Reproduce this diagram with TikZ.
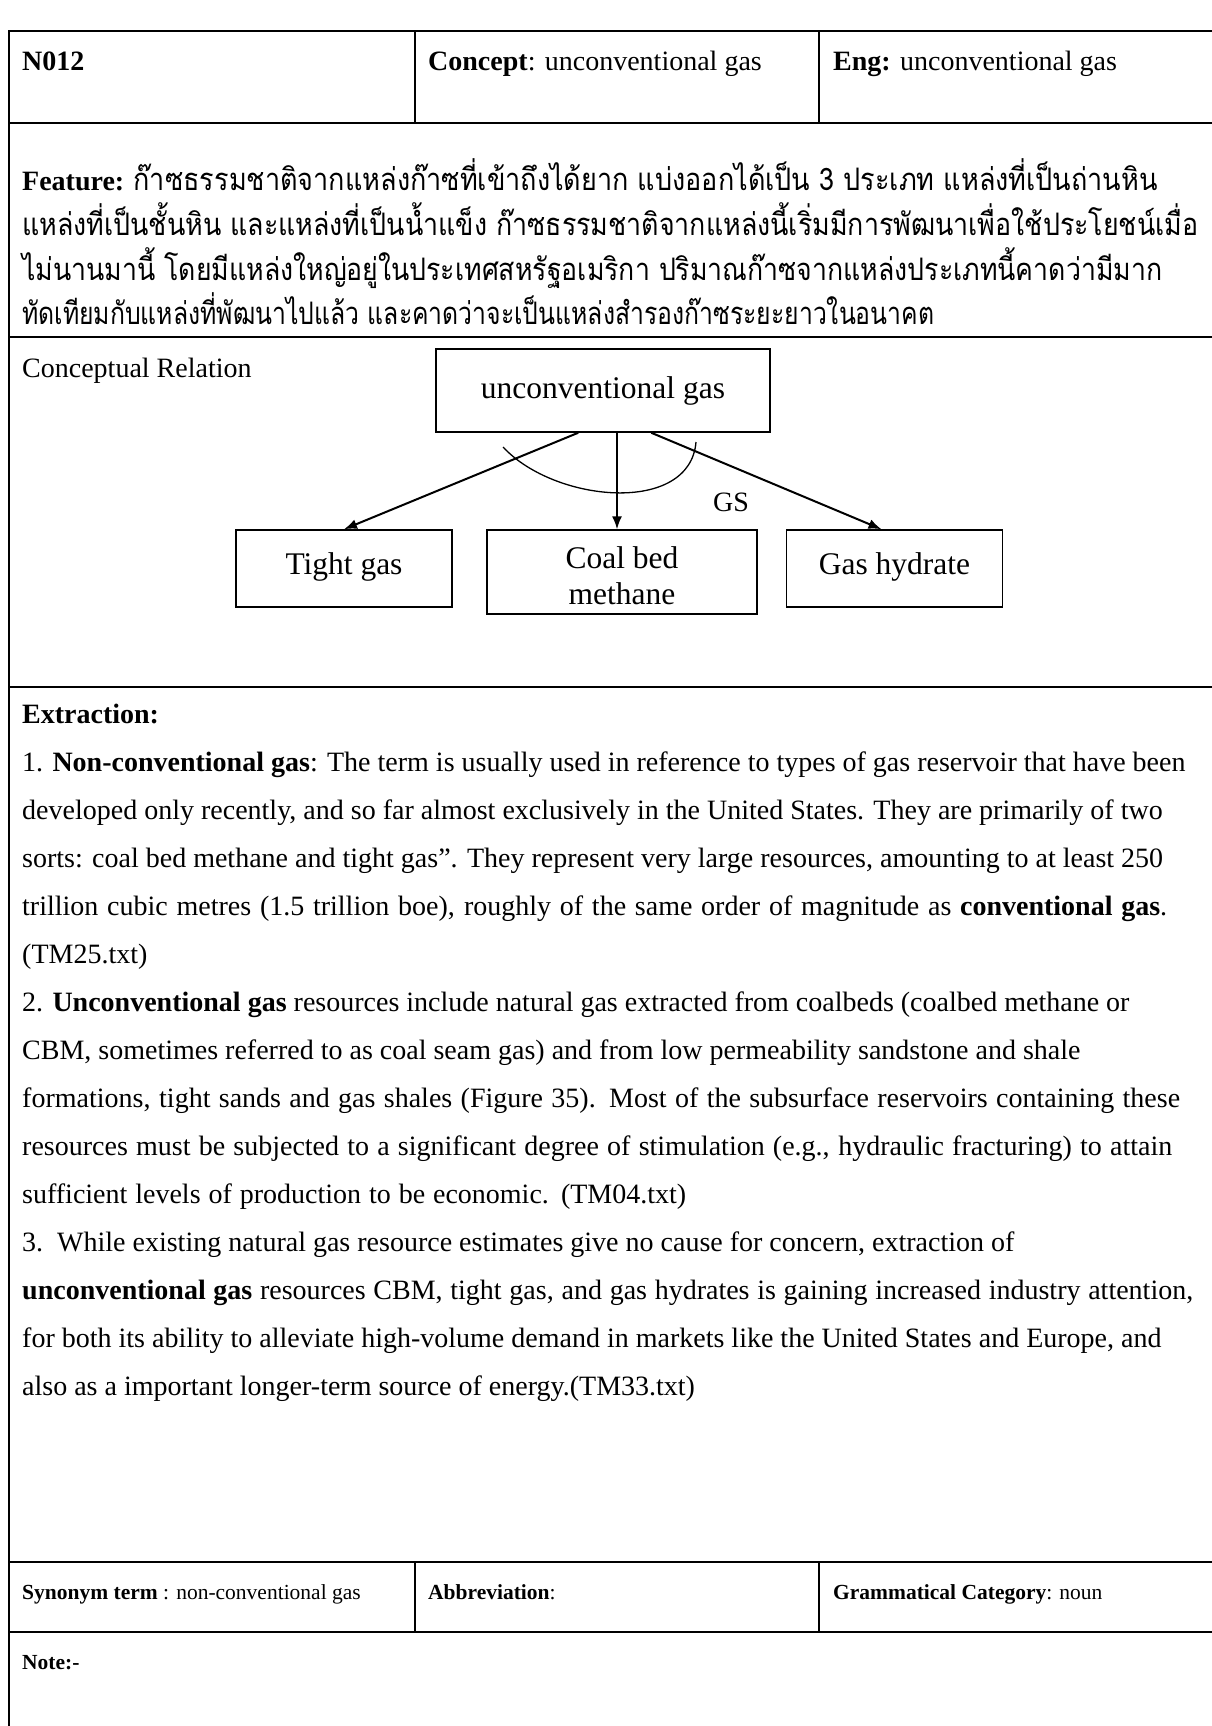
\documentclass[tikz,border=0pt]{standalone}
\usepackage{fontspec}
\usepackage{graphicx}
\setmainfont{Liberation Serif}
\newfontfamily\thaifont[Script=Thai]{Loma}
\usetikzlibrary{arrows.meta}

% one Thai line squeezed or stretched to a given width
\newcommand{\thline}[2]{\resizebox{#1}{\height}{\thaifont\fontsize{31}{37}\selectfont #2}}
% a text line spread over a given width
\newcommand{\spread}[2]{\makebox[#1][s]{#2}}
% shift a box's ink without changing its size
\newcommand{\shiftink}[2]{\raisebox{#1}[\height][\depth]{#2}}

\begin{document}
\begin{tikzpicture}[x=1pt,y=-1pt,
  rule/.style={line width=2.4pt},
  body/.style={anchor=base west,inner sep=0pt,font=\fontsize{28}{34}\selectfont},
  small/.style={anchor=base west,inner sep=0pt,font=\fontsize{21.5}{26}\selectfont},
  term/.style={draw,line width=1.5pt,inner sep=0pt,align=center,
               font=\fontsize{31.5}{37}\selectfont},
  rel/.style={line width=2pt,-{Latex[length=13pt,width=10pt]}},
]
\useasboundingbox (0,0) rectangle (1212,1726);
\fill[white] (0,0) rectangle (1212,1726);

% ---- table rules ----
\draw[rule] (1212,31) -- (9,31) -- (9,1726);
\foreach \yy in {123,337,687,1562,1632}
  \draw[rule] (9,\yy) -- (1212,\yy);
\draw[rule] (415,31) -- (415,123);
\draw[rule] (819,31) -- (819,123);
\draw[rule] (415,1562) -- (415,1632);
\draw[rule] (819,1562) -- (819,1632);

% ---- header row ----
\node[body] (id) at (22,71) {\textbf{N012}};
\node[body] (concept) at (428,71) {\textbf{Concept}: unconventional gas};
\node[body] (eng) at (833,71) {\textbf{Eng:} unconventional gas};

% ---- feature ----
\node[body] (f1) at (22,190) {\textbf{Feature:} \thline{1024pt}{ก๊าซธรรมชาติจากแหล่งก๊าซที่เข้าถึงได้ยาก แบ่งออกได้เป็น 3 ประเภท แหล่งที่เป็นถ่านหิน}};
\node[body] (f2) at (22,235) {\thline{1176pt}{แหล่งที่เป็นชั้นหิน และแหล่งที่เป็นน้ำแข็ง ก๊าซธรรมชาติจากแหล่งนี้เริ่มมีการพัฒนาเพื่อใช้ประโยชน์เมื่อ}};
\node[body] (f3) at (22,280) {\thline{1140pt}{ไม่นานมานี้ โดยมีแหล่งใหญ่อยู่ในประเทศสหรัฐอเมริกา ปริมาณก๊าซจากแหล่งประเภทนี้คาดว่ามีมาก}};
\node[body] (f4) at (22,324) {\thline{912pt}{ทัดเทียมกับแหล่งที่พัฒนาไปแล้ว และคาดว่าจะเป็นแหล่งสำรองก๊าซระยะยาวในอนาคต}};

% ---- conceptual relation ----
\node[body] (crel) at (22,377) {Conceptual Relation};

\node[term,minimum width=334pt,minimum height=83pt] (ug) at (603,390.5)
  {unconventional gas};
\node[term,minimum width=216pt,minimum height=77pt] (tg) at (344,568.5)
  {\shiftink{2pt}{Tight gas}};
\node[term,minimum width=270pt,minimum height=84pt] (cbm) at (622,572)
  {\shiftink{-7pt}{\begin{tabular}{@{}c@{}}Coal bed\\[-1pt] methane\end{tabular}}};
\node[term,minimum width=216pt,minimum height=77pt] (gh) at (894.5,568.5)
  {\shiftink{2pt}{Gas hydrate}};

\draw[rel] (ug.south west) ++(143,0) coordinate (a1) -- (tg.north);
\draw[rel,line width=1.6pt] (ug.south) ++(14,0) coordinate (a2) -- (a2 |- cbm.north);
\draw[rel] (ug.south west) ++(216,0) coordinate (a3) -- ([xshift=-13pt]gh.north);

% generalisation arc over the three links
\coordinate (arcL) at (503,447);
\coordinate (arcR) at (696,442);
\draw[line width=1.3pt] (arcL) .. controls (555,503) and (690,515) .. (arcR);
\node[inner sep=0pt,font=\fontsize{28}{34}\selectfont] (gs) at (731,502) {GS};

% ---- extraction ----
\node[body] (e0) at (22,723) {\textbf{Extraction:}};
\node[body] (e1) at (22,771) {1. \textbf{Non-conventional gas}: The term is usually used in reference to types of gas reservoir that have been};
\node[body] (e2) at (22,819) {developed only recently, and so far almost exclusively in the United States. They are primarily of two};
\node[body] (e3) at (22,867) {sorts: coal bed methane and tight gas”. They represent very large resources, amounting to at least 250};
\node[body] (e4) at (22,915) {\spread{1145pt}{trillion cubic metres (1.5 trillion boe), roughly of the same order of magnitude as \textbf{conventional gas}.}};
\node[body] (e5) at (22,963) {(TM25.txt)};
\node[body] (e6) at (22,1011) {2. \textbf{Unconventional gas} resources include natural gas extracted from coalbeds (coalbed methane or};
\node[body] (e7) at (22,1059) {CBM, sometimes referred to as coal seam gas) and from low permeability sandstone and shale};
\node[body] (e8) at (22,1107) {\spread{1158pt}{formations, tight sands and gas shales (Figure 35). Most of the subsurface reservoirs containing these}};
\node[body] (e9) at (22,1155) {\spread{1150pt}{resources must be subjected to a significant degree of stimulation (e.g., hydraulic fracturing) to attain}};
\node[body] (e10) at (22,1203) {\spread{664pt}{sufficient levels of production to be economic. (TM04.txt)}};
\node[body] (e11) at (22,1251) {3.\ \ While existing natural gas resource estimates give no cause for concern, extraction of};
\node[body] (e12) at (22,1299) {\spread{1171pt}{\textbf{unconventional gas} resources CBM, tight gas, and gas hydrates is gaining increased industry attention,}};
\node[body] (e13) at (22,1347) {for both its ability to alleviate high-volume demand in markets like the United States and Europe, and};
\node[body] (e14) at (22,1395) {also as a important longer-term source of energy.(TM33.txt)};

% ---- synonym / abbreviation / category ----
\node[small] (syn) at (22,1599) {\textbf{Synonym term} : non-conventional gas};
\node[small] (abbr) at (428,1599) {\textbf{Abbreviation}:};
\node[small] (cat) at (833,1599) {\textbf{Grammatical Category}: noun};

% ---- note ----
\node[small] (note) at (22,1669) {\textbf{Note:-}};
\end{tikzpicture}
\end{document}
